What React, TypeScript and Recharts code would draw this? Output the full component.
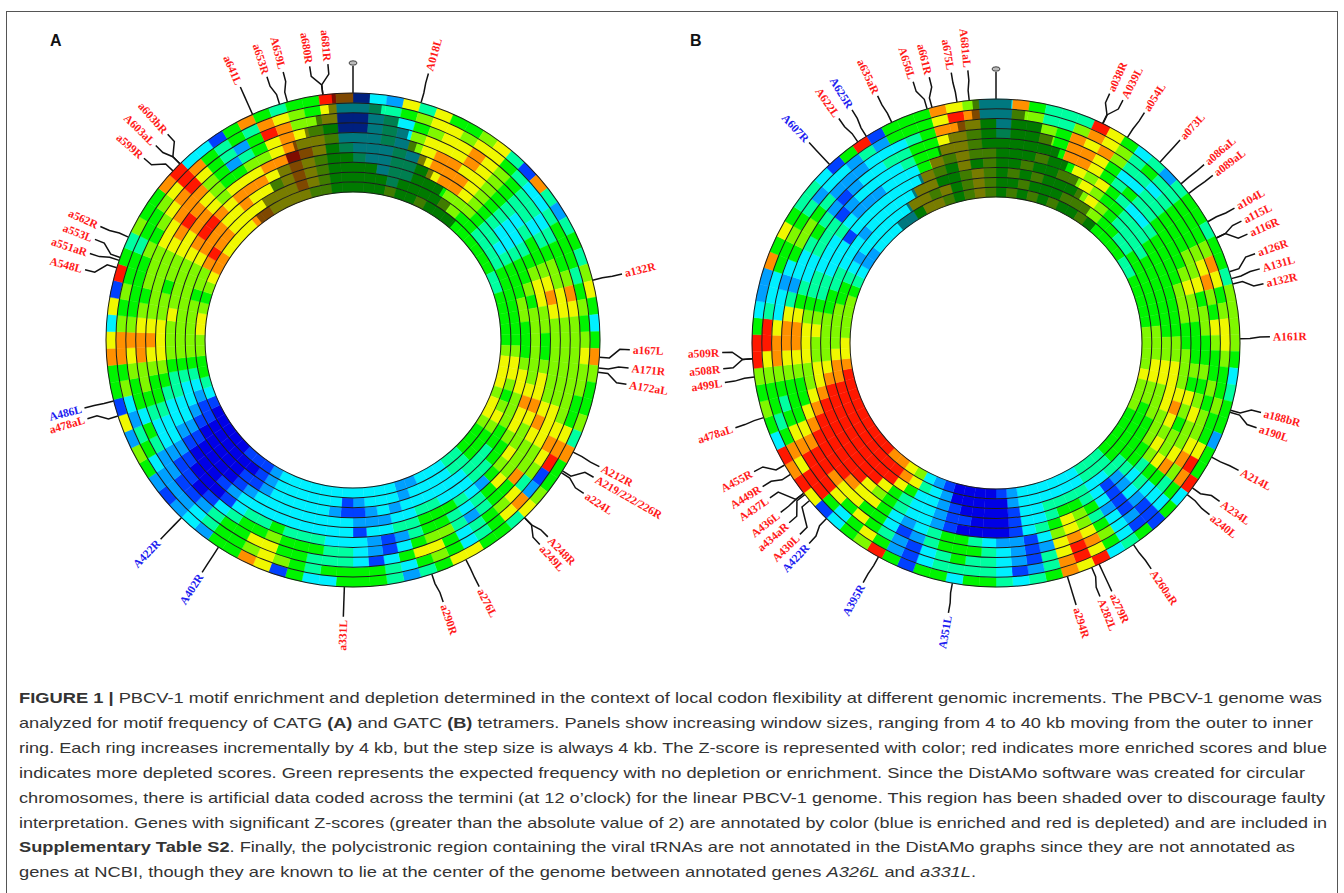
import React from "react";
import { PieChart, Pie, Cell } from "recharts";

// z-score level of each 4 degree bin, clockwise from 12 o'clock, outer ring first
const RINGS_A = [
  "1327475567" + "4184245467" + "5358655648" + "5567455775" + "4245553351" + "7855232125" + "6271558737" + "1954655893" + "3158545598",
  "3445677677" + "5433455545" + "6567665578" + "9128754356" + "5345555456" + "7655432223" + "5423658865" + "6554556798" + "5454876573",
  "1343567787" + "6544345568" + "7666666678" + "7647654357" + "7531344455" + "7755421122" + "4535567865" + "5556567897" + "5425986671",
  "1343677787" + "6544345667" + "7666666777" + "6685542466" + "5312344555" + "6554310112" + "3345668876" + "5666778886" + "5245787651",
  "3343678877" + "6543455678" + "7666666787" + "6667543455" + "4212333444" + "5443100012" + "3345567876" + "6666789876" + "5566787763",
  "3334378887" + "6543345677" + "6655677876" + "6765234555" + "4433133333" + "3333210001" + "2334567776" + "6566778876" + "7778898754",
  "4334457887" + "6543345565" + "6666667877" + "6554433344" + "3322233333" + "3332100001" + "2334456667" + "6666789987" + "8887787655",
  "5534455566" + "6544345556" + "6555677666" + "5544433333" + "3232112333" + "3321100000" + "1233456666" + "6666788877" + "8776787655",
  "5554555566" + "5544445555" + "5556776567" + "6555443333" + "2333213333" + "3321000000" + "1123456666" + "6566898877" + "7777787655",
  "5556556555" + "5555554455" + "5556777677" + "6555443332" + "2333333333" + "3321110000" + "0134556677" + "6567887777" + "8877776655",
];
const RINGS_B = [
  "3854449753" + "4245545546" + "6665345525" + "5935154397" + "8543455355" + "1596531798" + "9356569953" + "2285754431" + "5915558763",
  "3664468764" + "5445556875" + "6776556557" + "9853113579" + "8421344443" + "1257535997" + "8545567994" + "3355654233" + "2425557983",
  "3556587864" + "4345556786" + "5765565667" + "8643123689" + "7412344543" + "1245757999" + "8754568873" + "3235665422" + "2333458875",
  "4556588753" + "3445556675" + "6655656766" + "7853213578" + "7212345554" + "2135577899" + "8755567887" + "4233454212" + "3344557765",
  "5555588754" + "5445555676" + "6555657656" + "6754312467" + "6312234554" + "3235778999" + "9875567887" + "5433444123" + "3334557765",
  "5556557675" + "4334555566" + "6556667876" + "7643213567" + "5431000012" + "3345679999" + "9987667776" + "5443334322" + "2333576766",
  "5565566765" + "5444555555" + "5566777766" + "6554213455" + "4331000112" + "3345799999" + "9998776676" + "5443331333" + "3333765756",
  "5656555676" + "5444455555" + "5566776665" + "5554433444" + "4331000012" + "3357999999" + "9999876666" + "5544333233" + "3337755676",
  "5565556666" + "5544555555" + "5666776655" + "5555444333" + "3332000002" + "3478999999" + "9999887666" + "6554323333" + "3377675676",
  "5656565565" + "5555445555" + "5666676665" + "5555444333" + "3332100001" + "2367889999" + "9999987766" + "6654322333" + "3357765676",
];

// shaded termini per ring (degrees either side of 12 o'clock)
const SHADE_A_LEFT = [-5, -6, -9.5, -13, -17, -20, -24, -28, -33, -38];
const SHADE_A_RIGHT = [4, 7, 11.7, 15, 18, 22, 25.6, 30.7, 35.7, 40.8];
const SHADE_B_LEFT = [-5.6, -6, -10, -13, -16.7, -20, -25, -29, -33, -39.5];
const SHADE_B_RIGHT = [3.7, 7.2, 12, 15.5, 18.3, 21.8, 26.7, 30, 35, 40];

const LEVEL_COLORS = ["#0000e6", "#0040ff", "#00a0ff", "#00f0ff", "#00ffa0", "#00f500", "#80f800", "#f0f800", "#ff9000", "#ff1800"];

// gene name, angle on the ring, angle of the label
const GENES_A: [string, number, number][] = [
  ["A018L", 16, 15.8], ["a132R", 76, 76.2], ["a167L", 94, 92], ["A171R", 96.5, 95.8], ["A172aL", 97.5, 99.2],
  ["A212R", 117, 117.2], ["A219/222/226R", 122, 119.7], ["a224L", 122.5, 123.6], ["A248R", 136, 135.3], ["a249L", 136, 137.6],
  ["a276L", 152.8, 152.9], ["a290R", 161.4, 161], ["a331L", 182, 182], ["A402R", 213, 213], ["A422R", 224, 224],
  ["a478aL", 252.1, 253.5], ["A486L", 255.7, 255.8], ["A548L", 287, 284.7], ["a551aR", 288.8, 288.2], ["a553L", 289.5, 291.3],
  ["a562R", 294.6, 294.2], ["a599R", 313.2, 311], ["A603aL", 315.5, 314.6], ["a603bR", 315.5, 318], ["a641L", 336, 336],
  ["a653R", 342.7, 341.9], ["A659L", 344.6, 345.4], ["a680R", 353, 351], ["a681R", 353, 354.8],
];
const GENES_B: [string, number, number][] = [
  ["a038R", 25.9, 24.5], ["A039L", 26, 27.6], ["a054L", 32.6, 32.8], ["a073L", 42.2, 42.2], ["a086aL", 49.3, 49.4],
  ["a089aL", 52.2, 52.3], ["a104L", 60.2, 60.5], ["a115L", 64.5, 63.6], ["a116R", 64.5, 66.6], ["a126R", 73, 71],
  ["A131L", 74.7, 74.3], ["a132R", 76, 77.5], ["A161R", 89, 88.7], ["a188bR", 106, 104.7], ["a190L", 106.5, 108],
  ["A214L", 117.9, 117.7], ["A234L", 126.4, 125.3], ["a240L", 128.4, 128.8], ["A260aR", 145.7, 145.5], ["a279R", 155, 155],
  ["A282L", 156.9, 157.7], ["a294R", 163, 163], ["A351L", 190.3, 190], ["A395R", 208.8, 209], ["A422R", 224, 223],
  ["A430L", 229.8, 225.7], ["a434aR", 231.6, 229], ["A436L", 232, 231.8], ["A437L", 232, 235.6], ["A449R", 237.4, 238.4],
  ["A455R", 240, 242], ["a478aL", 252.2, 252], ["a499L", 262, 261.7], ["a508R", 266.3, 264.6], ["a509R", 266.3, 268],
  ["A607R", 317, 317], ["A622L", 325.5, 325], ["A625R", 327.9, 328.3], ["a635aR", 334.7, 334.4], ["A656L", 343.6, 342.4],
  ["a661R", 344.8, 345.9], ["a675L", 350.8, 350.6], ["A681aL", 353.7, 354.1],
];
const BLUE_A = ["A402R", "A422R", "A486L"];
const BLUE_B = ["A351L", "A395R", "A422R", "A607R", "A625R"];

const CAPTION: [string, number][] = [
  ["FIGURE 1 | PBCV-1 motif enrichment and depletion determined in the context of local codon flexibility at different genomic increments. The PBCV-1 genome was", 1322],
  ["analyzed for motif frequency of CATG (A) and GATC (B) tetramers. Panels show increasing window sizes, ranging from 4 to 40 kb moving from the outer to inner", 1313],
  ["ring. Each ring increases incrementally by 4 kb, but the step size is always 4 kb. The Z-score is represented with color; red indicates more enriched scores and blue", 1327],
  ["indicates more depleted scores. Green represents the expected frequency with no depletion or enrichment. Since the DistAMo software was created for circular", 1305],
  ["chromosomes, there is artificial data coded across the termini (at 12 o\u2019clock) for the linear PBCV-1 genome. This region has been shaded over to discourage faulty", 1325],
  ["interpretation. Genes with significant Z-scores (greater than the absolute value of 2) are annotated by color (blue is enriched and red is depleted) and are included in", 1327],
  ["Supplementary Table S2. Finally, the polycistronic region containing the viral tRNAs are not annotated in the DistAMo graphs since they are not annotated as", 1295],
  ["genes at NCBI, though they are known to lie at the center of the genome between annotated genes A326L and a331L.", 976],
];

const RED = "#ff1a1a";
const BLUE = "#2020f0";
const SERIF = "'Liberation Serif', serif";
const SANS = "'Liberation Sans', Arial, sans-serif";

const polar = (cx: number, cy: number, r: number, deg: number) => {
  const t = (deg * Math.PI) / 180;
  return [cx + r * Math.sin(t), cy - r * Math.cos(t)];
};

// ten heat rings, their separators and the shaded termini, all as pies
const wheel = (id: string, rings: string[], left: number[], right: number[], cx: number, cy: number, R: number, inner: number) => {
  const th = (R - inner) / rings.length;
  const out: React.ReactNode[] = [];
  rings.forEach((ring, k) => {
    const bins = ring.split("").map((d, i) => ({ name: `${i}`, value: 1, level: Number(d) }));
    out.push(
      <Pie key={`${id}r${k}`} data={bins} dataKey="value" cx={cx} cy={cy} innerRadius={R - th * (k + 1)} outerRadius={R - th * k}
        startAngle={90} endAngle={-270} isAnimationActive={false}>
        {bins.map((b) => (
          <Cell key={b.name} fill={LEVEL_COLORS[b.level]} stroke={LEVEL_COLORS[b.level]} strokeWidth={0.4} />
        ))}
      </Pie>
    );
  });
  rings.forEach((_, k) => {
    out.push(
      <Pie key={`${id}s${k}`} data={[{ value: 1 }]} dataKey="value" cx={cx} cy={cy} innerRadius={R - th * (k + 1)} outerRadius={R - th * k}
        startAngle={90 - left[k]} endAngle={90 - right[k]} fill="#000" fillOpacity={0.5} stroke="none" isAnimationActive={false} />
    );
  });
  for (let k = 0; k <= rings.length; k++) {
    const r = R - th * k;
    out.push(
      <Pie key={`${id}l${k}`} data={[{ value: 1 }]} dataKey="value" cx={cx} cy={cy} innerRadius={r - 0.5} outerRadius={r + 0.5}
        startAngle={90} endAngle={-270} fill="#1c1c1c" stroke="none" isAnimationActive={false} />
    );
  }
  return out;
};

const geneLabels = (genes: [string, number, number][], blue: string[], cx: number, cy: number, R: number) => (
  <g>
    {genes.map(([name, a, la]) => {
      const pts = [polar(cx, cy, R, a), polar(cx, cy, R + 10, a), polar(cx, cy, R + 20, la), polar(cx, cy, R + 30, la)];
      const [tx, ty] = polar(cx, cy, R + 33, la);
      const rightSide = la < 180;
      return (
        <g key={name}>
          <polyline points={pts.map((p) => p.join(",")).join(" ")} fill="none" stroke="#111" strokeWidth={1.5} />
          <text x={tx} y={ty} dy="0.35em" textAnchor={rightSide ? "start" : "end"} transform={`rotate(${rightSide ? la - 90 : la + 90} ${tx} ${ty})`}
            fontFamily={SERIF} fontWeight="bold" fontSize={11.5} fill={blue.includes(name) ? BLUE : RED}>
            {name}
          </text>
        </g>
      );
    })}
    <polyline points={[polar(cx, cy, R, 0), polar(cx, cy, R + 27, 0)].map((p) => p.join(",")).join(" ")} fill="none" stroke="#111" strokeWidth={1.5} />
    <ellipse cx={cx} cy={cy - R - 30} rx={4} ry={2.2} fill="#bbb" stroke="#444" strokeWidth={1} />
  </g>
);

const captionParts = (line: string) =>
  line.split(/(FIGURE 1 \||\(A\)|\(B\)|Supplementary Table S2|A326L|a331L)/).map((part, i) => {
    if (/^(FIGURE|\(A|\(B|Supp)/.test(part)) return <tspan key={i} fontWeight="bold">{part}</tspan>;
    if (part === "A326L" || part === "a331L") return <tspan key={i} fontStyle="italic">{part}</tspan>;
    return <tspan key={i}>{part}</tspan>;
  });

const Caption = () => (
  <g fontFamily={SANS} fontSize={15} fill="#333">
    {CAPTION.map(([line, end], i) => (
      <text key={i} x={19} y={703 + i * 24.9} textLength={end - 19} lengthAdjust="spacingAndGlyphs">
        {captionParts(line)}
      </text>
    ))}
  </g>
);

export default function App() {
  return (
    <div style={{ position: "absolute", left: 0, top: 0, width: 1344, height: 893, background: "#fff", overflow: "hidden" }}>
      <PieChart width={1344} height={893} margin={{ top: 0, right: 0, bottom: 0, left: 0 }}>
        {wheel("a", RINGS_A, SHADE_A_LEFT, SHADE_A_RIGHT, 353, 340, 247, 148)}
        {wheel("b", RINGS_B, SHADE_B_LEFT, SHADE_B_RIGHT, 996, 343, 244, 146)}
        <rect x={6.5} y={11.5} width={1331} height={900} fill="none" stroke="#555" strokeWidth={1} />
        {geneLabels(GENES_A, BLUE_A, 353, 340, 247)}
        {geneLabels(GENES_B, BLUE_B, 996, 343, 244)}
        <text x={50} y={46} fontFamily={SANS} fontWeight="bold" fontSize={16} fill="#111">A</text>
        <text x={690} y={46} fontFamily={SANS} fontWeight="bold" fontSize={16} fill="#111">B</text>
        <Caption />
      </PieChart>
    </div>
  );
}
